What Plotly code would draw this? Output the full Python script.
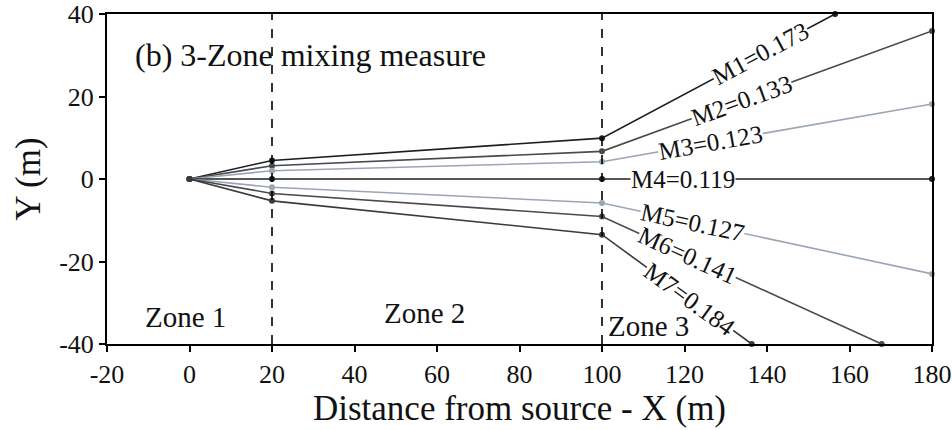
import math
import numpy as np
import plotly.graph_objects as go

# ---- data ----
series_names = ["M1", "M2", "M3", "M4", "M5", "M6", "M7"]
mix_values = [0.173, 0.133, 0.123, 0.119, 0.127, 0.141, 0.184]
x_source = 0
y_source = 0
x_zone2_start = 20
x_zone3_start = 100
y_at_20 = [4.5, 3.2, 2.0, 0.0, -2.0, -3.5, -5.3]
y_at_100 = [9.9, 6.7, 4.2, 0.0, -5.8, -9.1, -13.5]
x_end = [156.5, 180, 180, 180, 180, 167.8, 136.3]
y_end = [40, 35.9, 18.2, 0.0, -23.0, -40, -40]
label_x = [138.4, 133.9, 126.4, 119.7, 122.0, 120.8, 121.4]

zone_names = ["Zone 1", "Zone 2", "Zone 3"]
zone_label_x = [-1.0, 57.0, 101.0]
zone_label_y = [-33.4, -32.4, -35.7]

x_ticks = [-20, 0, 20, 40, 60, 80, 100, 120, 140, 160, 180]
y_ticks = [-40, -20, 0, 20, 40]

# ---- styles ----
line_colors = ["#1e1e1e", "#4a4a4a", "#9aa6b4", "#1e1e1e", "#9aa6b4", "#4a4a4a", "#3a3a3a"]
FONT = "Liberation Serif"
W, H = 952, 430
M = dict(l=107, r=20, t=14, b=86)
XR = [-20, 180]
YR = [-40, 40]

fig = go.Figure()

for i, name in enumerate(series_names):
    xs = [x_source, x_zone2_start, x_zone3_start, x_end[i]]
    ys = [y_source, y_at_20[i], y_at_100[i], y_end[i]]
    fig.add_trace(go.Scatter(
        x=xs, y=ys, mode="lines+markers",
        line=dict(color=line_colors[i], width=1.6),
        marker=dict(color=line_colors[i], size=6),
        cliponaxis=False, showlegend=False, name=name,
    ))

# dashed zone boundaries
for xv in [x_zone2_start, x_zone3_start]:
    fig.add_shape(type="line", x0=xv, x1=xv, y0=YR[0], y1=YR[1],
                  xref="x", yref="y",
                  line=dict(color="black", width=1.6, dash="dash"))

# rotated labels along each line in zone 3
px_per_x = (W - M["l"] - M["r"]) / (XR[1] - XR[0])
px_per_y = (H - M["t"] - M["b"]) / (YR[1] - YR[0])
for i, name in enumerate(series_names):
    xs = [x_zone3_start, x_end[i]]
    ys = [y_at_100[i], y_end[i]]
    slope = (ys[1] - ys[0]) / (xs[1] - xs[0])
    ly = float(np.interp(label_x[i], xs, ys))
    ang = -math.degrees(math.atan(slope * px_per_y / px_per_x))
    fig.add_annotation(
        x=label_x[i], y=ly, xref="x", yref="y",
        text=f"{name}={mix_values[i]}", showarrow=False,
        textangle=ang, bgcolor="white", borderpad=0,
        font=dict(family=FONT, size=25, color="#111"),
    )

for zn, zx, zy in zip(zone_names, zone_label_x, zone_label_y):
    fig.add_annotation(
        x=zx, y=zy, xref="x", yref="y", text=zn, showarrow=False,
        xanchor="center" if zn != "Zone 3" else "left",
        font=dict(family=FONT, size=29, color="#111"),
    )

fig.add_annotation(
    x=-13.7, y=30.0, xref="x", yref="y", text="(b) 3-Zone mixing measure",
    showarrow=False, xanchor="left",
    font=dict(family=FONT, size=32, color="#111"),
)

axis_common = dict(
    showgrid=False, zeroline=False, showline=True, linecolor="black",
    linewidth=2, mirror=True, ticks="outside", ticklen=6, tickwidth=1.6,
    tickcolor="black", tickfont=dict(family=FONT, size=26, color="#111"),
    ticklabeloverflow="allow", automargin=False,
)
fig.update_xaxes(range=XR, tickvals=x_ticks, ticktext=[str(v) for v in x_ticks],
                 title=dict(text="Distance from source - X (m)", standoff=2,
                            font=dict(family=FONT, size=35, color="#111")),
                 **axis_common)
fig.update_yaxes(range=YR, tickvals=y_ticks, ticktext=[str(v) for v in y_ticks],
                 title=dict(text="Y (m)", standoff=8,
                            font=dict(family=FONT, size=35, color="#111")),
                 **axis_common)

fig.update_layout(width=W, height=H, margin=M,
                  plot_bgcolor="white", paper_bgcolor="white")

fig.write_html("out.html")
